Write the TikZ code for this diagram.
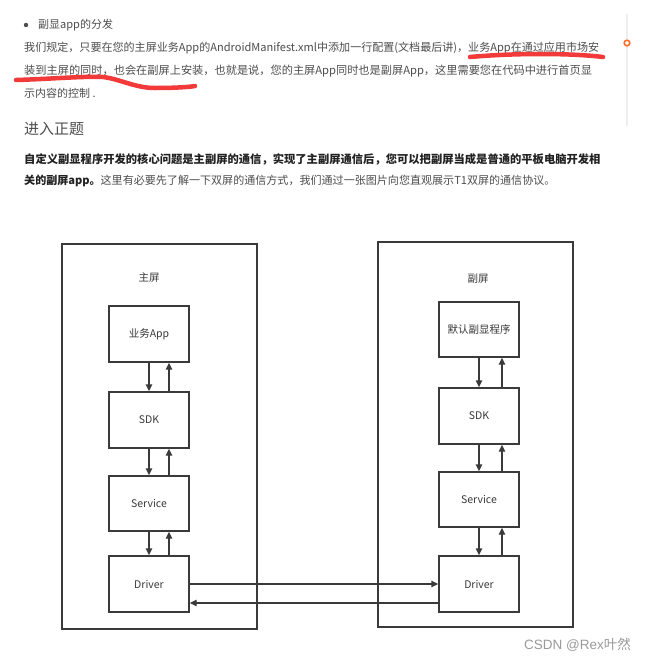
\documentclass[tikz,border=0pt]{standalone}
\usepackage{fontspec}
\setmainfont{Noto Sans CJK SC}
\newfontfamily\wmlatin{Liberation Sans}
\usetikzlibrary{arrows.meta}
\definecolor{bodytxt}{HTML}{4D4D4D}
\definecolor{boldtxt}{HTML}{222222}
\definecolor{diag}{HTML}{3A3A3A}
\definecolor{penred}{HTML}{F23A3A}
\definecolor{ringor}{HTML}{FC6D26}
\definecolor{railgray}{HTML}{EEEEEE}
\definecolor{wmgray}{HTML}{9A9A9A}
\tikzset{
  bodyline/.style={anchor=west,inner sep=0pt,text=bodytxt,font=\fontsize{11}{13}\selectfont},
  layerbox/.style={draw=diag,line width=1.4pt,minimum width=80pt,inner sep=0pt,text=diag,font=\fontsize{10.5}{12}\selectfont},
  screenbox/.style={draw=diag,line width=1.4pt,inner sep=0pt},
  flow/.style={draw=diag,line width=1.4pt,-{Triangle[length=7pt,width=6.5pt]}},
  pen/.style={draw=penred,line width=4.5pt,line cap=round,line join=round},
}
\begin{document}
\begin{tikzpicture}[x=1pt,y=-1pt]
\useasboundingbox[fill=white] (0,0) rectangle (648,664);
% side rail
\draw[railgray,line width=2pt] (627,14) -- (627,126);
\draw[ringor,fill=white,line width=1.6pt] (627,43) circle (2.8);
% text
\fill[bodytxt] (26,25) circle (2.2);
\node[bodyline] (t1) at (38,25) {副显app的分发};
\node[bodyline,font=\fontsize{11.05}{13}\selectfont] (t2) at (24,48) {我们规定，只要在您的主屏业务App的AndroidManifest.xml中添加一行配置(文档最后讲)，业务App在通过应用市场安};
\node[bodyline,font=\fontsize{11.2}{13}\selectfont] (t3) at (24,71) {装到主屏的同时，也会在副屏上安装，也就是说，您的主屏App同时也是副屏App，这里需要您在代码中进行首页显};
\node[bodyline] (t4) at (24,93) {示内容的控制 .};
\node[bodyline,font=\fontsize{15}{18}\selectfont] (h) at (24,129) {进入正题};
\node[bodyline,text=boldtxt,font=\fontsize{11.3}{13}\selectfont\bfseries] (b1) at (24,159) {自定义副显程序开发的核心问题是主副屏的通信，实现了主副屏通信后，您可以把副屏当成是普通的平板电脑开发相};
\node[bodyline,font=\fontsize{11.05}{13}\selectfont] (b2) at (24,181) {{\color{boldtxt}\bfseries 关的副屏app。}这里有必要先了解一下双屏的通信方式，我们通过一张图片向您直观展示T1双屏的通信协议。};
% red pen strokes
\draw[pen] (470,57) .. controls (515,53) and (570,53) .. (603,57);
\draw[pen] (16,80) .. controls (50,79) and (85,76) .. (103,77) .. controls (120,79) and (135,88) .. (155,88) .. controls (175,88) and (190,87) .. (195,86);
% screens
\draw[screenbox] (62,244) rectangle (257,629);
\draw[screenbox] (378,242) rectangle (573,627);
\node[text=diag,font=\fontsize{10.5}{12}\selectfont] (mainlbl) at (149,278) {主屏};
\node[text=diag,font=\fontsize{10.5}{12}\selectfont] (sublbl) at (478,279) {副屏};
% left stack
\node[layerbox,minimum height=56pt] (lapp) at (149,334) {业务App};
\node[layerbox,minimum height=56pt] (lsdk) at (149,420) {SDK};
\node[layerbox,minimum height=55pt] (lsvc) at (149,503.5) {Service};
\node[layerbox,minimum height=56pt] (ldrv) at (149,584) {Driver};
% right stack
\node[layerbox,minimum height=55pt] (rapp) at (479,329.5) {默认副显程序};
\node[layerbox,minimum height=56pt] (rsdk) at (479,416) {SDK};
\node[layerbox,minimum height=55pt] (rsvc) at (479,499.5) {Service};
\node[layerbox,minimum height=56pt] (rdrv) at (479,584) {Driver};
% vertical flows
\foreach \a/\b in {lapp/lsdk,lsdk/lsvc,lsvc/ldrv}{
  \draw[flow] (\a.south) -- (\b.north);
  \draw[flow] ([xshift=20pt]\b.north) -- ([xshift=20pt]\a.south);
}
\foreach \a/\b in {rapp/rsdk,rsdk/rsvc,rsvc/rdrv}{
  \draw[flow] (\a.south) -- (\b.north);
  \draw[flow] ([xshift=23pt]\b.north) -- ([xshift=23pt]\a.south);
}
% horizontal flows
\draw[flow] (ldrv.east) -- (rdrv.west);
\draw[flow] ([yshift=-19pt]rdrv.west) -- ([yshift=-19pt]ldrv.east);
% watermark
\node[anchor=west,inner sep=0pt,text=wmgray,font=\fontsize{13.5}{15}\selectfont] (wm) at (524,645) {{\wmlatin CSDN @Rex}叶然};
\end{tikzpicture}
\end{document}
